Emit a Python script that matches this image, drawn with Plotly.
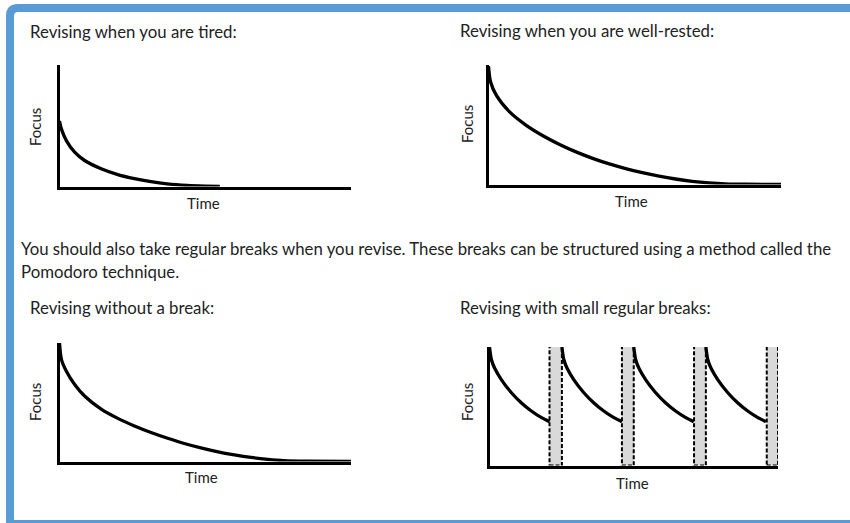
import plotly.graph_objects as go

W, H = 850, 523

# ---- data (time 0-100, focus 0-100) ----
tired_time = [0, 0.7, 2.4, 5.2, 8.6, 14.3, 20, 25.7, 31.4, 36.9, 43.8, 50, 55]
tired_focus = [53.9, 47, 37.6, 28.2, 21.4, 14.6, 9.8, 6.5, 4.0, 2.2, 0.9, 0.3, 0]

rested_time = [0, 0.7, 2.7, 7.3, 12.9, 18.6, 24.3, 29.9, 35.6, 41.3, 46.9, 52.6, 58.3, 63.9, 69.6, 75.3, 81, 88, 100]
rested_focus = [99, 86, 74.5, 60.5, 49.5, 40.8, 33.5, 27.3, 21.9, 17.2, 13.3, 9.9, 7.0, 4.6, 2.7, 1.4, 0.6, 0.2, 0]

nobreak_time = [0, 0.7, 2.4, 5.2, 8.6, 14.3, 20, 25.7, 31.4, 37.1, 42.8, 48.5, 54, 60, 65.7, 71.4, 77, 85, 100]
nobreak_focus = [100, 85.8, 76, 65, 55.3, 44.2, 36.4, 30, 24.5, 19.6, 15.2, 11.5, 8.4, 5.6, 3.4, 1.8, 0.7, 0.2, 0]

segment_offset = [0, 0.7, 1.8, 4.1, 7.6, 11, 14.5, 17.9, 20.8]
segment_focus = [100, 89, 82, 72.5, 61.4, 53, 46, 40.6, 37]
break_start = [20.8, 45.9, 70.9, 96.1]
break_end = [25.1, 50.0, 75.0, 100.0]

titles = ["Revising when you are tired:", "Revising when you are well-rested:",
          "Revising without a break:", "Revising with small regular breaks:"]
para_lines = ["You should also take regular breaks when you revise. These breaks can be structured using a method called the",
              "Pomodoro technique."]
x_label = "Time"
y_label = "Focus"

FONT = "Lato"
TXT = "#222222"

def px_x(p):
    return p / W

def px_y(p):
    return 1 - p / H

# panel pixel boxes (left, right, top, bottom) of axis lines
panels = [(58, 351, 65, 188), (487, 781, 65, 186), (58, 351, 343, 463), (488, 778, 347, 467)]

fig = go.Figure()
lw = 3
layout_axes = {}
for i, (l, r, t, b) in enumerate(panels, start=1):
    xd = [px_x(l + lw / 2), px_x(r)]
    yd = [px_y(b - lw / 2), px_y(t)]
    sfx = "" if i == 1 else str(i)
    layout_axes["xaxis" + sfx] = dict(domain=xd, range=[0, 100], showline=True, linewidth=lw,
                                     linecolor="black", showgrid=False, zeroline=False,
                                     showticklabels=False, ticks="", anchor="y" + sfx, fixedrange=True)
    layout_axes["yaxis" + sfx] = dict(domain=yd, range=[0, 100], showline=True, linewidth=lw,
                                     linecolor="black", showgrid=False, zeroline=False,
                                     showticklabels=False, ticks="", anchor="x" + sfx, fixedrange=True)

line_style = dict(color="black", width=3.3, shape="spline", smoothing=0.8)
fig.add_trace(go.Scatter(x=tired_time, y=tired_focus, mode="lines", line=line_style,
                         xaxis="x", yaxis="y", cliponaxis=False, hoverinfo="skip"))
fig.add_trace(go.Scatter(x=rested_time, y=rested_focus, mode="lines", line=line_style,
                         xaxis="x2", yaxis="y2", cliponaxis=False, hoverinfo="skip"))
fig.add_trace(go.Scatter(x=nobreak_time, y=nobreak_focus, mode="lines", line=line_style,
                         xaxis="x3", yaxis="y3", cliponaxis=False, hoverinfo="skip"))

seg_starts = [0] + break_end[:-1]
for s in seg_starts:
    fig.add_trace(go.Scatter(x=[s + o for o in segment_offset], y=segment_focus, mode="lines",
                             line=line_style, xaxis="x4", yaxis="y4", cliponaxis=False, hoverinfo="skip"))

shapes = []
for bs, be in zip(break_start, break_end):
    shapes.append(dict(type="rect", xref="x4", yref="y4", x0=bs, x1=be, y0=0, y1=101.5,
                       fillcolor="#d9d9d9", line=dict(color="black", width=2, dash="4px,2px"), layer="below"))

# blue frame (left, top, bottom visible)
shapes.append(dict(type="path", xref="paper", yref="paper",
                   path=f"M {px_x(860)},{px_y(8)} L {px_x(18)},{px_y(8)} Q {px_x(10)},{px_y(8)} {px_x(10)},{px_y(16)} "
                        f"L {px_x(10)},{px_y(524)} L {px_x(860)},{px_y(524)}",
                   line=dict(color="#5b9bd5", width=8)))

ann = []
title_pos = [(28, 31), (458, 30), (28, 307), (458, 307)]
for txt, (x, y) in zip(titles, title_pos):
    ann.append(dict(text=txt, x=px_x(x), y=px_y(y), xref="paper", yref="paper", xanchor="left",
                    yanchor="middle", showarrow=False, font=dict(family=FONT, size=16.8, color=TXT)))
for txt, y in zip(para_lines, [248, 271]):
    ann.append(dict(text=txt, x=px_x(19), y=px_y(y), xref="paper", yref="paper", xanchor="left",
                    yanchor="middle", showarrow=False, font=dict(family=FONT, size=16.8, color=TXT)))
time_pos = [(203, 203), (631, 201), (201, 477), (632, 483)]
for x, y in time_pos:
    ann.append(dict(text=x_label, x=px_x(x), y=px_y(y), xref="paper", yref="paper", xanchor="center",
                    yanchor="middle", showarrow=False, font=dict(family=FONT, size=15, color=TXT)))
focus_pos = [(35, 127), (467, 124), (35, 402), (467, 402)]
for x, y in focus_pos:
    ann.append(dict(text=y_label, x=px_x(x), y=px_y(y), xref="paper", yref="paper", xanchor="center",
                    yanchor="middle", textangle=-90, showarrow=False,
                    font=dict(family=FONT, size=15, color=TXT)))

fig.update_layout(width=W, height=H, margin=dict(l=0, r=0, t=0, b=0), paper_bgcolor="white",
                  plot_bgcolor="white", showlegend=False, shapes=shapes, annotations=ann, **layout_axes)

fig.write_html("out.html", config={"displayModeBar": False},
               post_script="document.body.style.margin='0';document.body.style.overflow='hidden';")
